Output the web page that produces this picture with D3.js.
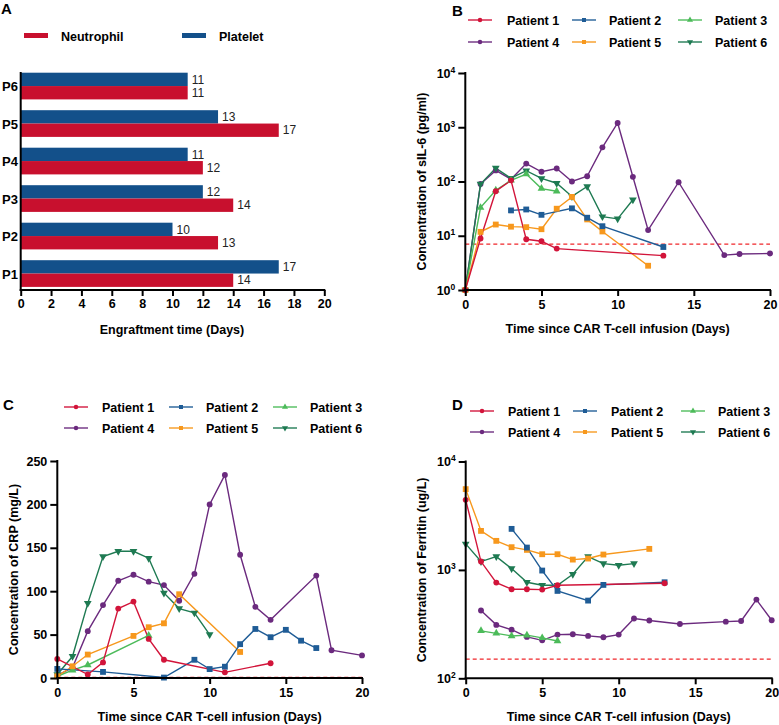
<!DOCTYPE html>
<html><head><meta charset="utf-8">
<script src="https://cdn.jsdelivr.net/npm/d3@7"></script>
<style>body{margin:0;background:#fff}svg{display:block}text{font-family:"Liberation Sans",Arial,sans-serif}</style>
</head><body><svg id="c" width="779" height="725"></svg>
<script>
// ---- Panel A data ----
const patientsA = ["P6","P5","P4","P3","P2","P1"];
const neutrophil = {P1:14,P2:13,P3:14,P4:12,P5:17,P6:11};
const platelet   = {P1:17,P2:10,P3:12,P4:11,P5:13,P6:11};
const xTicksA = [0,2,4,6,8,10,12,14,16,18,20];

// ---- Patient series names ----
const patientNames = ["Patient 1","Patient 2","Patient 3","Patient 4","Patient 5","Patient 6"];
const patientColors = ["#D2143A","#1F5C96","#4CBB5A","#6B2A7E","#F7981D","#1E7A52"];
const patientSymbols = ["circle","square","triangle","circle","square","triangleDown"];

// ---- Panel B: sIL-6 (pg/ml), [day, value] ----
const il6_p1 = [[0,1],[1,8.9],[2,66],[3,105],[4,8.6],[5,7.9],[6,5.8],[13,4.3]];
const il6_p2 = [[3,29.3],[4,30.5],[5,24.3],[7,32],[8,21.5],[9,15],[13,6.2]];
const il6_p3 = [[0,1],[1,33],[2,69],[3,105],[4,137],[5,74],[6,66]];
const il6_p4 = [[0,1],[1,90],[2,160],[3,110],[4,214],[5,151],[6,174],[7,100],[8,125],[9,426],[10,1200],[11,122],[12,12.7],[14,97],[17,4.4],[18,4.6],[20,4.7]];
const il6_p5 = [[0,1],[1,11.8],[2,16.1],[3,14.7],[4,14.4],[5,13.2],[6,31.5],[7,52],[8,20],[9,12],[12,2.8]];
const il6_p6 = [[0,1],[1,90],[2,177],[3,115],[4,158],[5,114],[6,93],[7,53],[8,81],[9,22.5],[10,20.5],[11,46]];
const il6Threshold = 7;
const il6Ticks = [1,10,100,1000,10000];

// ---- Panel C: CRP (mg/L) ----
const crp_p1 = [[0,22],[2,4],[3,18],[4,80],[5,88],[6,45],[7,21],[11,6.5],[14,17]];
const crp_p2 = [[0,10.5],[3,7],[7,0.5],[9,21],[10,10.3],[11,13],[12,39],[13,56.5],[14,47],[15,55.5],[16,43],[17,34.5]];
const crp_p3 = [[0,2],[1,9],[2,15],[6,49]];
const crp_p4 = [[0,3],[1,12],[2,54],[3,84],[4,112],[5,119],[6,111],[7,107],[8,89],[9,120],[10,200],[11,234],[12,142],[13,82],[14,67],[17,118],[18,32],[20,26]];
const crp_p5 = [[0,2],[1,13.5],[2,27],[5,48.5],[6,58.5],[7,63],[8,96.5],[12,30]];
const crp_p6 = [[0,4],[1,25],[2,86],[3,140],[4,146],[5,146],[6,138],[7,98],[8,80],[9,75],[10,50]];
const crpThreshold = 0.8;
const crpTicks = [0,50,100,150,200,250];

// ---- Panel D: Ferritin (ug/L) ----
const fer_p1 = [[0,4430],[1,1194],[2,764],[3,663],[4,663],[5,658],[6,721],[13,753]];
const fer_p2 = [[3,2390],[4,1607],[5,986],[6,640],[8,521],[9,727],[13,769]];
const fer_p3 = [[1,274],[2,260],[3,246],[4,250],[5,236],[6,221]];
const fer_p4 = [[1,422],[2,311],[3,281],[4,241],[5,224],[6,253],[7,255],[8,246],[9,239],[10,253],[11,356],[12,341],[14,317],[17,333],[18,338],[19,532],[20,343]];
const fer_p5 = [[0,5560],[1,2290],[2,1853],[3,1620],[4,1530],[5,1395],[6,1395],[7,1245],[8,1273],[9,1386],[12,1563]];
const fer_p6 = [[0,1738],[1,1194],[2,1327],[3,1029],[4,769],[5,721],[6,721],[7,912],[8,1327],[9,1143],[10,1103],[11,1143]];
const ferThreshold = 150;
const ferTicks = [100,1000,10000];

const dayTicks = [0,5,10,15,20];

const svg = d3.select("#c");
const FONT = "'Liberation Sans',Arial,sans-serif";

function styleAxis(g){
  g.select(".domain").attr("stroke","#000").attr("stroke-width",2);
  g.selectAll(".tick line").attr("stroke","#000").attr("stroke-width",2);
  g.selectAll(".tick text").attr("fill","#000").attr("font-size",12.5).attr("font-weight","bold").attr("font-family",FONT);
}
function panelLabel(t,x,y){
  svg.append("text").attr("x",x).attr("y",y).text(t).attr("font-size",15).attr("font-weight","bold");
}

// ================= Panel A =================
panelLabel("A",1,14);
{
  const x = d3.scaleLinear().domain([0,20]).range([20.7,324.3]);
  const y = d3.scaleBand().domain(patientsA).range([67.3,292.3]).paddingInner(0.288).paddingOuter(0.144);
  const sub = d3.scaleBand().domain(["platelet","neutrophil"]).range([0,y.bandwidth()]);
  const g = svg.append("g");
  const rows = g.selectAll("g.row").data(patientsA).join("g").attr("transform",d=>`translate(0,${y(d)})`);
  const series = [["platelet",platelet,"#13508A"],["neutrophil",neutrophil,"#C8102E"]];
  series.forEach(([key,vals,col])=>{
    rows.append("rect").attr("x",x(0)).attr("y",sub(key)).attr("height",sub.bandwidth())
      .attr("width",d=>x(vals[d])-x(0)).attr("fill",col);
    rows.append("text").attr("x",d=>x(vals[d])+4).attr("y",sub(key)+sub.bandwidth()/2+4.2)
      .text(d=>vals[d]).attr("font-size",12).attr("fill","#222");
  });
  const xa = g.append("g").attr("transform","translate(0,290)").call(d3.axisBottom(x).tickValues(xTicksA).tickSize(6).tickSizeOuter(0).tickPadding(3));
  styleAxis(xa);
  xa.select(".domain").attr("d",`M${x(0)-1},0H${x(20)+1}`);
  g.append("line").attr("x1",x(0)).attr("x2",x(0)).attr("y1",72).attr("y2",291).attr("stroke","#000").attr("stroke-width",2);
  g.selectAll("text.cat").data(patientsA).join("text").attr("class","cat")
    .attr("x",2).attr("y",d=>y(d)+y.bandwidth()/2+5).text(d=>d)
    .attr("font-size",13).attr("font-weight","bold");
  g.append("text").attr("x",172).attr("y",334).attr("text-anchor","middle").text("Engraftment time (Days)")
    .attr("font-size",12.5).attr("font-weight","bold");
  // legend
  const leg = [["Neutrophil","#C8102E",24,61],["Platelet","#13508A",182,219]];
  leg.forEach(([t,c,lx,tx])=>{
    g.append("rect").attr("x",lx).attr("y",33).attr("width",24).attr("height",5).attr("fill",c);
    g.append("text").attr("x",tx).attr("y",40.5).text(t).attr("font-size",12.5).attr("font-weight","bold");
  });
}

// ================= line panel helper =================
function symbolPath(kind,size){
  if(kind==="circle") return d3.symbol(d3.symbolCircle, size)();
  if(kind==="square") return d3.symbol(d3.symbolSquare, size)();
  return d3.symbol(d3.symbolTriangle, size)();
}
function legend(lineX,textX,rowYs){
  patientNames.forEach((n,i)=>{
    const col = i%3, row = Math.floor(i/3);
    const y = rowYs[row];
    svg.append("line").attr("x1",lineX[col]).attr("x2",lineX[col]+24).attr("y1",y).attr("y2",y)
      .attr("stroke",patientColors[i]).attr("stroke-width",1.6).attr("opacity",0.85);
    const mg = svg.append("g").attr("transform",`translate(${lineX[col]+12},${y})`);
    const p = mg.append("path").attr("d",symbolPath(patientSymbols[i],16)).attr("fill",patientColors[i]);
    if(patientSymbols[i]==="triangleDown") p.attr("transform","rotate(180)");
    svg.append("text").attr("x",textX[col]).attr("y",y+4.5).text(n).attr("font-size",12.5).attr("font-weight","bold");
  });
}
function linePanel(opt){
  const {x,y,data,threshold,yTicks,log,yTitle,yTitleX,xTitleY,axisY} = opt;
  const g = svg.append("g");
  g.append("line").attr("x1",x(0)).attr("x2",x(20)).attr("y1",y(threshold)).attr("y2",y(threshold))
    .attr("stroke","#F0262A").attr("stroke-width",1.3).attr("stroke-dasharray","4,3");
  const line = d3.line().x(d=>x(d[0])).y(d=>y(d[1]));
  const order = [3,5,2,4,1,0];
  order.forEach(i=>{
    g.append("path").datum(data[i]).attr("d",line).attr("fill","none").attr("stroke",patientColors[i]).attr("stroke-width",1.4);
  });
  order.forEach(i=>{
    const sz = patientSymbols[i]==="square"?34:(patientSymbols[i]==="circle"?27:26);
    g.selectAll(null).data(data[i]).join("path")
      .attr("d",symbolPath(patientSymbols[i],sz))
      .attr("transform",d=>`translate(${x(d[0])},${y(d[1])})`+(patientSymbols[i]==="triangleDown"?" rotate(180)":""))
      .attr("fill",patientColors[i]);
  });
  const xa = g.append("g").attr("transform",`translate(0,${axisY})`)
    .call(d3.axisBottom(x).tickValues(dayTicks).tickSize(6).tickSizeOuter(0).tickPadding(4));
  styleAxis(xa);
  xa.select(".domain").attr("d",`M${x(0)-1},0H${x(20)+1}`);
  const ya = g.append("g").attr("transform",`translate(${x(0)},0)`)
    .call(d3.axisLeft(y).tickValues(yTicks).tickSize(7).tickSizeOuter(0).tickPadding(3).tickFormat(log?(()=>""):d3.format("d")));
  styleAxis(ya);
  const r = y.range();
  ya.select(".domain").attr("d",`M0,${r[0]+1}V${r[1]-1}`);
  if(log){
    ya.selectAll(".tick").each(function(d){
      const t = d3.select(this).select("text");
      t.text("10");
      t.append("tspan").attr("dy",-5).attr("font-size",8.5).text(Math.round(Math.log10(d)));
    });
  }
  g.append("text").attr("x",(x(0)+x(20))/2).attr("y",xTitleY).attr("text-anchor","middle")
    .text("Time since CAR T-cell infusion (Days)").attr("font-size",12.5).attr("font-weight","bold");
  g.append("text").attr("transform",`translate(${yTitleX},${(r[0]+r[1])/2}) rotate(-90)`).attr("text-anchor","middle")
    .text(yTitle).attr("font-size",12.5).attr("font-weight","bold");
}

// ================= Panel B =================
panelLabel("B",452,16);
legend([468,572,678],[507,609,715],[20,42]);
linePanel({
  x: d3.scaleLinear().domain([0,20]).range([465.3,770]),
  y: d3.scaleLog().domain([1,10000]).range([290,73]),
  data:[il6_p1,il6_p2,il6_p3,il6_p4,il6_p5,il6_p6],
  threshold: il6Threshold, yTicks: il6Ticks, log:true,
  yTitle:"Concentration of sIL-6 (pg/ml)", yTitleX:426, xTitleY:333, axisY:290
});

// ================= Panel C =================
panelLabel("C",3,410);
legend([64,169,273],[102,206,310],[407,428]);
linePanel({
  x: d3.scaleLinear().domain([0,20]).range([57.3,362]),
  y: d3.scaleLinear().domain([0,250]).range([678,461]),
  data:[crp_p1,crp_p2,crp_p3,crp_p4,crp_p5,crp_p6],
  threshold: crpThreshold, yTicks: crpTicks, log:false,
  yTitle:"Concentration of CRP (mg/L)", yTitleX:18, xTitleY:721, axisY:678
});

// ================= Panel D =================
panelLabel("D",452,410);
legend([470,573,681],[508,611,718],[411,432]);
linePanel({
  x: d3.scaleLinear().domain([0,20]).range([465.7,771.7]),
  y: d3.scaleLog().domain([100,10000]).range([678.3,461.5]),
  data:[fer_p1,fer_p2,fer_p3,fer_p4,fer_p5,fer_p6],
  threshold: ferThreshold, yTicks: ferTicks, log:true,
  yTitle:"Concentration of Ferritin (ug/L)", yTitleX:426, xTitleY:721, axisY:678.3
});
</script></body></html>
